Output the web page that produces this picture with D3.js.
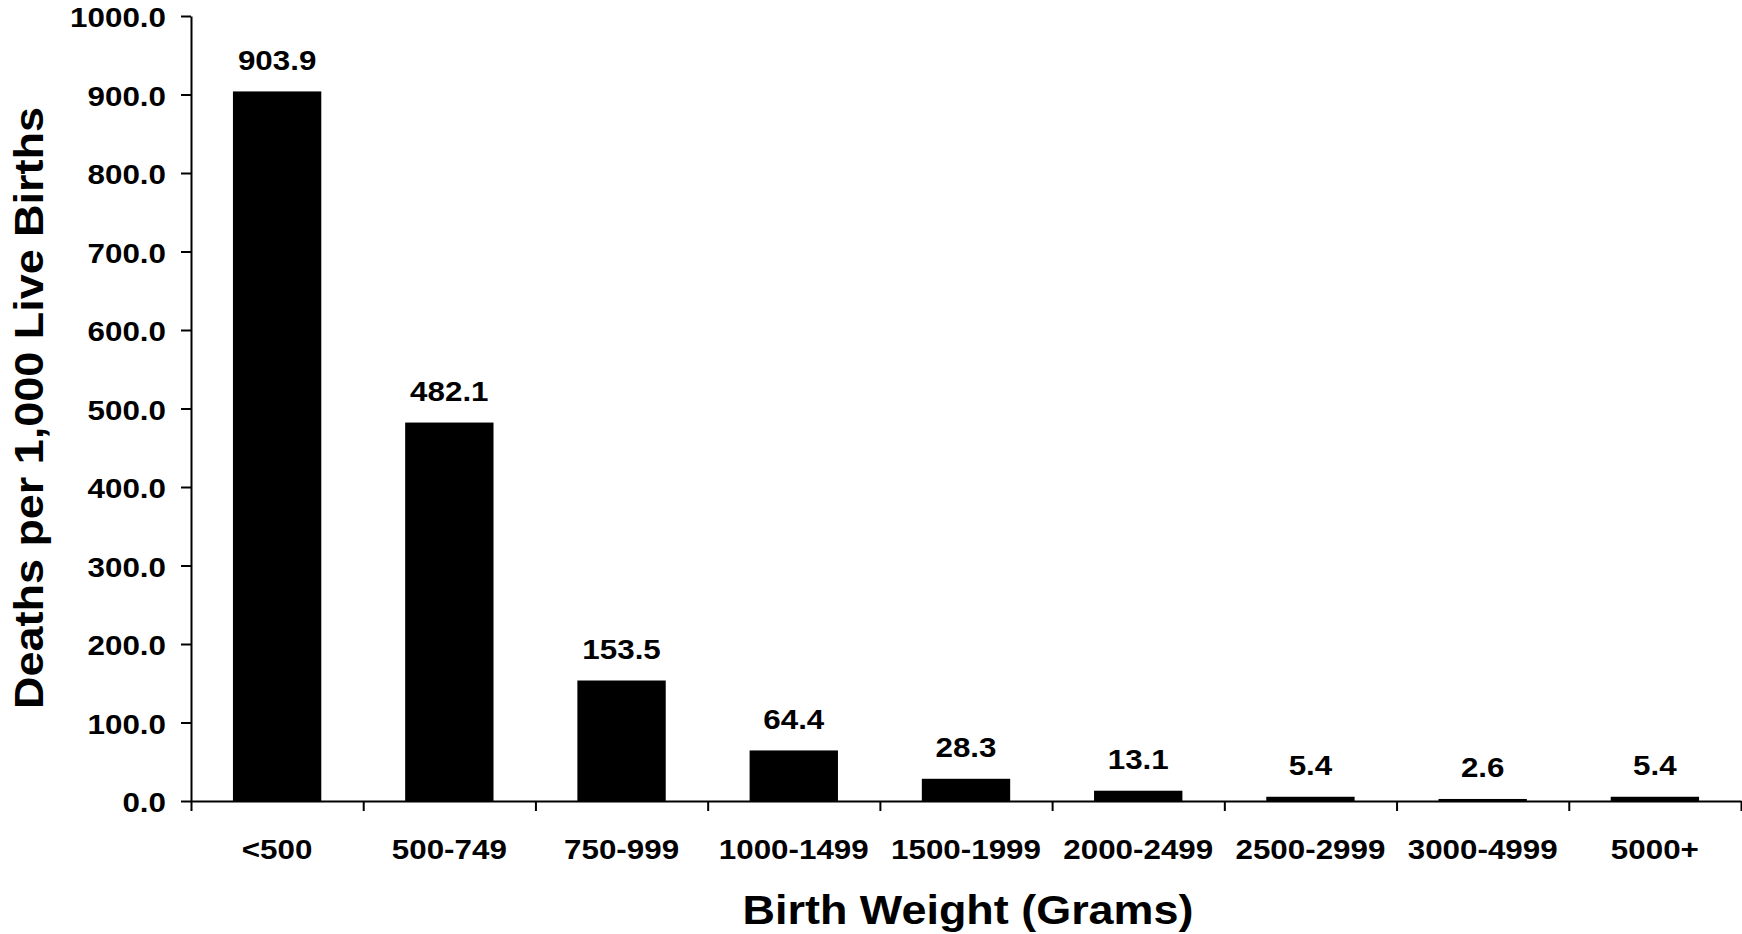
<!DOCTYPE html>
<html>
<head>
<meta charset="utf-8">
<script src="https://cdn.jsdelivr.net/npm/d3@7"></script>
<style>
  html, body { margin: 0; padding: 0; background: #fff; }
  svg { display: block; }
  text { font-family: "Liberation Sans", Arial, Helvetica, sans-serif; font-weight: bold; fill: #000; }
</style>
</head>
<body>
<svg id="chart" width="1742" height="934"></svg>
<script>
// ---- Data ----
const categories = ["<500", "500-749", "750-999", "1000-1499", "1500-1999", "2000-2499", "2500-2999", "3000-4999", "5000+"];
const deathRates = [903.9, 482.1, 153.5, 64.4, 28.3, 13.1, 5.4, 2.6, 5.4];
const yTicks = [0, 100, 200, 300, 400, 500, 600, 700, 800, 900, 1000];
const xTitle = "Birth Weight (Grams)";
const yTitle = "Deaths per 1,000 Live Births";

(function () {
  // ---- Layout ----
  const plotLeft = 191, plotRight = 1741, plotTop = 16, plotBottom = 801;
  const stretch = 1.12;
  const fmt = d3.format(".1f");

  const svg = d3.select("#chart");

  const x = d3.scaleBand().domain(categories).range([plotLeft, plotRight]).padding(0);
  const y = d3.scaleLinear().domain([0, 1000]).range([plotBottom, plotTop]);
  const barW = x.bandwidth() * 0.513;
  const rows = categories.map((c, i) => ({ c, v: deathRates[i] }));

  // Bars
  svg.append("g").selectAll("rect")
    .data(rows)
    .join("rect")
    .attr("x", d => x(d.c) + (x.bandwidth() - barW) / 2)
    .attr("y", d => y(d.v))
    .attr("width", barW)
    .attr("height", d => y(0) - y(d.v))
    .attr("fill", "#000");

  // Y axis
  const yAxis = svg.append("g")
    .attr("transform", `translate(${plotLeft},0)`)
    .call(d3.axisLeft(y).tickValues(yTicks).tickFormat(fmt).tickSize(10).tickSizeOuter(0));
  yAxis.select(".domain").attr("stroke", "#000").attr("stroke-width", 2);
  yAxis.selectAll(".tick line").attr("stroke", "#000").attr("stroke-width", 2);
  yAxis.selectAll(".tick text")
    .attr("x", null).attr("dy", null)
    .attr("transform", `translate(-25,10.5) scale(${stretch},1)`)
    .attr("font-size", 28)
    .attr("font-family", null)
    .attr("text-anchor", "end");
  yAxis.attr("font-family", null).attr("font-size", null);

  // X axis: line + boundary ticks
  const xb = d3.scaleLinear().domain([0, categories.length]).range([plotLeft, plotRight]);
  const xAxis = svg.append("g")
    .attr("transform", `translate(0,${plotBottom})`)
    .call(d3.axisBottom(xb).tickValues(d3.range(categories.length + 1)).tickFormat("").tickSize(10).tickSizeOuter(0));
  xAxis.select(".domain").attr("stroke", "#000").attr("stroke-width", 2);
  xAxis.selectAll(".tick line").attr("stroke", "#000").attr("stroke-width", 2);
  xAxis.selectAll(".tick text").remove();

  // X category labels
  svg.append("g").selectAll("text")
    .data(categories)
    .join("text")
    .attr("transform", d => `translate(${x(d) + x.bandwidth() / 2},858.5) scale(${stretch},1)`)
    .attr("text-anchor", "middle")
    .attr("font-size", 28)
    .text(d => d);

  // Value labels
  svg.append("g").selectAll("text")
    .data(rows)
    .join("text")
    .attr("transform", d => `translate(${x(d.c) + x.bandwidth() / 2},${y(d.v) - 21.5}) scale(${stretch},1)`)
    .attr("text-anchor", "middle")
    .attr("font-size", 28)
    .text(d => fmt(d.v));

  // Axis titles
  svg.append("text")
    .attr("transform", `translate(968,924) scale(1.11,1)`)
    .attr("text-anchor", "middle")
    .attr("font-size", 40.5)
    .text(xTitle);

  svg.append("text")
    .attr("transform", `translate(43,408) rotate(-90) scale(1.11,1)`)
    .attr("text-anchor", "middle")
    .attr("font-size", 40.5)
    .text(yTitle);
})();
</script>
</body>
</html>
